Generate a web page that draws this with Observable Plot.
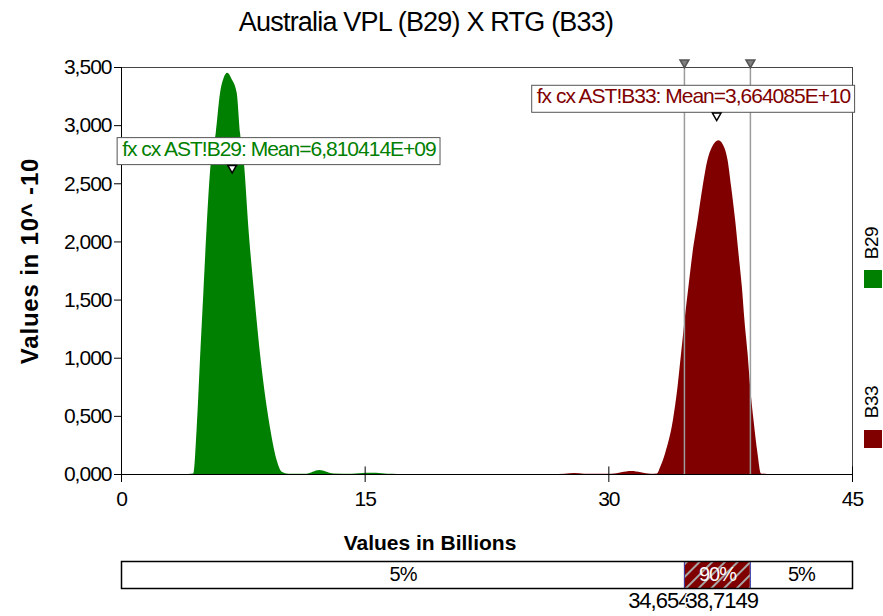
<!DOCTYPE html>
<html><head><meta charset="utf-8">
<script src="https://cdn.jsdelivr.net/npm/d3@7"></script>
<script src="https://cdn.jsdelivr.net/npm/@observablehq/plot@0.6"></script>
<style>
body{margin:0;background:#fff;width:883px;height:616px;overflow:hidden;font-family:"Liberation Sans",Arial,sans-serif;color:#000}
#wrap{position:relative;width:883px;height:616px}
#title{position:absolute;left:0;top:0;width:852px;height:46px;text-align:center;font-size:27px;line-height:44px;letter-spacing:-0.8px}
#main{position:absolute;left:0;top:46px}
#xlabel{position:absolute;left:0;top:528px;width:860px;text-align:center;font-weight:bold;font-size:21px;line-height:30px;letter-spacing:0px}
#bar{position:absolute;left:0;top:560px}
.rot{position:absolute;white-space:nowrap;transform:translate(-50%,-50%) rotate(-90deg)}
.sq{position:absolute;width:18px;height:18px}
svg text{letter-spacing:-1px}
</style>
</head><body>
<div id="wrap">
  <div id="title"></div>
  <div id="main"></div>
  <div id="ylabel" class="rot" style="left:30px;top:261px;font-weight:bold;font-size:24px;letter-spacing:0.8px"></div>
  <div id="xlabel"></div>
  <div id="bar"></div>
  <div id="legend"></div>
</div>
<script>
// ---------- data ----------
const titleText = "Australia VPL (B29) X RTG (B33)";
const xLabel = "Values in Billions";
const yLabel = "Values in 10^ -10";
const seriesNames = ["B29", "B33"];
const seriesColors = ["#008000", "#800000"];

const greenX = [3.8, 4.45, 4.66, 4.86, 5.07, 5.27, 5.52, 5.83, 6.1, 6.3, 6.54, 6.8, 7.12, 7.33, 7.57, 7.84, 8.19, 8.6, 9.17, 9.58, 9.89, 10.3, 11.4, 12.2, 13.1, 14.2, 15.1, 15.7, 16.4, 17.0, 41.8];
const greenY = [0, 0.005, 0.40, 0.98, 1.56, 2.12, 2.67, 2.93, 3.28, 3.40, 3.45, 3.40, 3.28, 2.93, 2.67, 2.12, 1.56, 0.98, 0.40, 0.12, 0.02, 0.003, 0.003, 0.034, 0.004, 0.002, 0.01, 0.01, 0.002, 0.001, 0.001];

const redX = [26.5, 27.3, 27.9, 28.5, 30.2, 30.8, 31.4, 32.0, 32.6, 32.99, 33.19, 33.5, 33.97, 34.26, 34.48, 34.69, 34.93, 35.18, 35.49, 35.8, 36.1, 36.37, 36.78, 37.13, 37.34, 37.56, 37.81, 38.01, 38.22, 38.38, 38.57, 38.73, 38.94, 39.18, 39.39, 39.8];
const redY = [0, 0.002, 0.008, 0.002, 0.002, 0.015, 0.025, 0.015, 0.002, 0.004, 0.06, 0.18, 0.46, 0.75, 1.04, 1.32, 1.61, 1.90, 2.18, 2.47, 2.70, 2.81, 2.87, 2.81, 2.70, 2.47, 2.18, 1.90, 1.61, 1.32, 1.04, 0.75, 0.46, 0.18, 0.005, 0];

const means = [6.810414, 36.64085];
const meanLabels = ["fx cx AST!B29: Mean=6,810414E+09", "fx cx AST!B33: Mean=3,664085E+10"];
const meanLabelY = [2.80, 3.25];

const cutoffs = [34.654, 38.7149];
const cutoffLabels = ["34,654", "38,7149"];
const bandPercents = ["5%", "90%", "5%"];

const xTicks = [0, 15, 30, 45];
const yTicks = [0, 0.5, 1, 1.5, 2, 2.5, 3, 3.5];

// ---------- build ----------
document.getElementById("title").textContent = titleText;
document.getElementById("xlabel").textContent = xLabel;
document.getElementById("ylabel").textContent = yLabel;

const green = greenX.map((x, i) => ({x, y: greenY[i]}));
const red = redX.map((x, i) => ({x, y: redY[i]}));
const fmtY = d => d.toFixed(3).replace(".", ",");

const mainSvg = Plot.plot({
  width: 883, height: 479,
  marginLeft: 121, marginRight: 31, marginTop: 21, marginBottom: 51,
  x: {domain: [0, 45]},
  y: {domain: [0, 3.5]},
  style: {fontFamily: "'Liberation Sans', Arial, sans-serif", fontSize: "21px", color: "#000", background: "transparent", overflow: "visible"},
  marks: [
    Plot.areaY(green, {x: "x", y: "y", fill: seriesColors[0], curve: "monotone-x"}),
    Plot.areaY(red, {x: "x", y: "y", fill: seriesColors[1], curve: "monotone-x"}),
    Plot.ruleX(cutoffs, {stroke: "#9c9c9c", strokeWidth: 1.5}),
    Plot.frame({stroke: "#444"}),
    Plot.ruleX([0], {stroke: "#000"}),
    Plot.ruleY([0], {stroke: "#000"}),
    Plot.ruleX(xTicks, {y1: 0, y2: 0.065, stroke: "#000"}),
    Plot.axisY({ticks: yTicks, tickSize: 7, tickPadding: 3, tickFormat: fmtY, label: null}),
    Plot.axisX({ticks: xTicks, tickSize: 8, tickPadding: 9, tickFormat: d => String(d), label: null}),
    Plot.dot(cutoffs, {x: d => d, y: 3.5, dy: -5, symbol: "triangle", rotate: 180, r: 3.3, fill: "#808080", stroke: "#555"}),
    Plot.text([0], {x: () => means[0], y: () => meanLabelY[0], text: () => meanLabels[0], fill: seriesColors[0], textAnchor: "start", dx: -110, fontSize: 21}),
    Plot.text([1], {x: () => means[1], y: () => meanLabelY[1], text: () => meanLabels[1], fill: seriesColors[1], textAnchor: "start", dx: -180, fontSize: 21}),
    Plot.dot([0, 1], {x: i => means[i], y: i => meanLabelY[i], dy: 19, symbol: "triangle", rotate: 180, r: 3.2, fill: "white", stroke: "#000"})
  ]
});
document.getElementById("main").append(mainSvg);

// white boxes behind the mean labels
mainSvg.querySelectorAll("text").forEach(t => {
  if (!t.textContent.startsWith("fx cx")) return;
  const b = t.getBBox();
  const r = document.createElementNS("http://www.w3.org/2000/svg", "rect");
  r.setAttribute("x", b.x - 5); r.setAttribute("y", b.y + 1);
  r.setAttribute("width", b.width + 9); r.setAttribute("height", b.height + 4);
  r.setAttribute("fill", "white"); r.setAttribute("stroke", "#555");
  if (t.getAttribute("transform")) r.setAttribute("transform", t.getAttribute("transform"));
  t.parentNode.insertBefore(r, t);
});

// ---------- percentile band ----------
const bounds = [0, ...cutoffs, 45];
const segs = bandPercents.map((p, i) => ({x1: bounds[i], x2: bounds[i + 1], p, mid: (bounds[i] + bounds[i + 1]) / 2, inner: i === 1}));

const barSvg = Plot.plot({
  width: 883, height: 56,
  marginLeft: 121, marginRight: 31, marginTop: 1, marginBottom: 28,
  x: {domain: [0, 45], axis: null},
  y: {domain: [0, 1], axis: null},
  style: {fontFamily: "'Liberation Sans', Arial, sans-serif", fontSize: "20px", color: "#000", background: "transparent", overflow: "visible"},
  marks: [
    Plot.rect(segs, {x1: "x1", x2: "x2", y1: 0, y2: 1, fill: d => d.inner ? seriesColors[1] : "white"}),
    Plot.rect(segs.filter(d => d.inner), {x1: "x1", x2: "x2", y1: 0, y2: 1, fill: "url(#hatch)"}),
    Plot.ruleX(cutoffs, {stroke: "#3a3aa8", strokeWidth: 1}),
    Plot.frame({stroke: "#000", strokeWidth: 1.5}),
    Plot.text(segs, {x: "mid", y: 0.5, text: "p", fill: d => d.inner ? "white" : "black", fontSize: 20}),
    Plot.text([cutoffLabels[0]], {x: () => cutoffs[0], frameAnchor: "bottom", text: d => d, textAnchor: "end", dx: 5, dy: 19, fontSize: 22, fill: "black"}),
    Plot.text([cutoffLabels[1]], {x: () => cutoffs[1], frameAnchor: "bottom", text: d => d, textAnchor: "start", dx: -65, dy: 19, fontSize: 22, fill: "black", stroke: "white", strokeWidth: 3})
  ]
});
const defs = d3.select(barSvg).insert("defs", ":first-child");
const pat = defs.append("pattern").attr("id", "hatch").attr("patternUnits", "userSpaceOnUse")
  .attr("width", 9).attr("height", 9).attr("patternTransform", "rotate(45)");
pat.append("line").attr("x1", 1).attr("y1", 0).attr("x2", 1).attr("y2", 9).attr("stroke", "#a8a8a8").attr("stroke-width", 2);
document.getElementById("bar").append(barSvg);

// ---------- legend (right) ----------
const legend = document.getElementById("legend");
const legTextY = [243, 402];
const legSqY = [270, 430];
seriesNames.forEach((n, i) => {
  const t = document.createElement("div");
  t.className = "rot";
  t.style.left = "872px"; t.style.top = legTextY[i] + "px"; t.style.fontSize = "19px"; t.style.letterSpacing = "-0.5px";
  t.textContent = n;
  legend.append(t);
  const s = document.createElement("div");
  s.className = "sq";
  s.style.left = "864px"; s.style.top = legSqY[i] + "px"; s.style.background = seriesColors[i];
  legend.append(s);
});
</script>
</body></html>
